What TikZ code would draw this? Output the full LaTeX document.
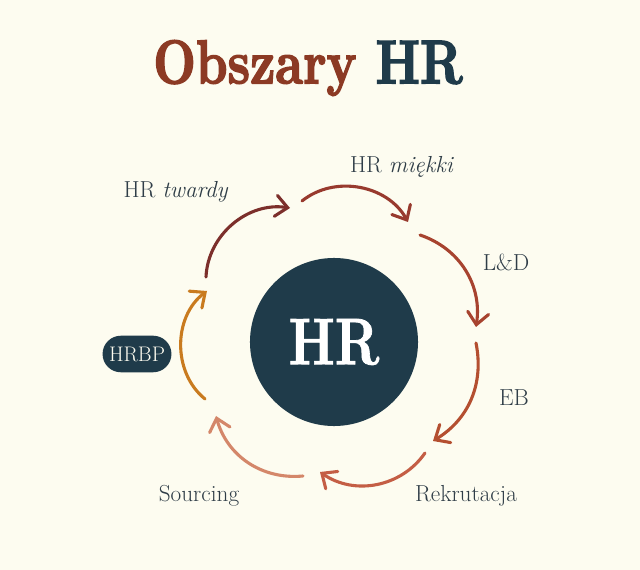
\documentclass[tikz,border=0pt]{standalone}
\usepackage{graphicx}
\usepackage{fontspec}
\newfontfamily\titlefont{lmroman10-bold.otf}[FakeBold=2.5]
\newfontfamily\hrfont{lmroman10-bold.otf}[FakeBold=1.2]
\usetikzlibrary{arrows.meta}
\definecolor{cream}{HTML}{FDFCF0}
\definecolor{navy}{HTML}{1F3B4A}
\definecolor{rust}{HTML}{8C3A24}
\definecolor{ink}{HTML}{2F3D47}
\definecolor{arcA}{HTML}{7C2F2B}
\definecolor{arcB}{HTML}{983A2E}
\definecolor{arcC}{HTML}{A7432F}
\definecolor{arcD}{HTML}{B44F30}
\definecolor{arcE}{HTML}{C45E45}
\definecolor{arcF}{HTML}{D4876A}
\definecolor{arcG}{HTML}{C97B1F}
\tikzset{
  loop arc/.style={line width=2.2pt, line cap=round,
    -{Straight Barb[length=8.5pt,width=15pt,line cap=round]}, bend left=#1},
  label/.style={text=ink, font=\fontsize{16.5}{19}\selectfont}
}
\begin{document}
\begin{tikzpicture}[x=0.025cm,y=0.025cm]
  \fill[cream] (0,0) rectangle (640,-570);
  \useasboundingbox (0,0) rectangle (640,-570);
  % title
  \node (title) at (308,-68) {\scalebox{0.8}[1]{\fontsize{44}{48}\titlefont
    \textcolor{rust}{Obszary} \textcolor{navy}{HR}}};
  % centre
  \node[circle, fill=navy, minimum size=4.2cm, inner sep=0pt] (hr) at (334,-342) {};
  \node[text=white] (hrtext) at (hr) {\scalebox{0.78}[1]{\fontsize{47}{50}\hrfont HR}};
  \node[fill=navy, text=cream, rounded corners=13pt, minimum width=49pt,
    minimum height=26pt, inner sep=2pt, font=\fontsize{15}{17}\selectfont]
    (hrbp) at (137,-354) {HRBP};
  % arc end points
  \coordinate (a1) at (206,-277); \coordinate (b1) at (290,-208);
  \coordinate (a2) at (302,-201); \coordinate (b2) at (408,-222);
  \coordinate (a3) at (420,-235); \coordinate (b3) at (476,-327);
  \coordinate (a4) at (476,-343); \coordinate (b4) at (433,-441);
  \coordinate (a5) at (425,-453); \coordinate (b5) at (320,-472);
  \coordinate (a6) at (303,-476); \coordinate (b6) at (216,-416);
  \coordinate (a7) at (205,-399); \coordinate (b7) at (207,-291);
  \draw[loop arc=48, arcA] (a1) to (b1);
  \draw[loop arc=50, arcB] (a2) to (b2);
  \draw[loop arc=40, arcC] (a3) to (b3);
  \draw[loop arc=35, arcD] (a4) to (b4);
  \draw[loop arc=45, arcE] (a5) to (b5);
  \draw[loop arc=40, arcF] (a6) to (b6);
  \draw[loop arc=52, arcG] (a7) to (b7);
  % labels
  \node[label] (twardy) at (176,-192) {HR \textit{twardy}};
  \node[label] (miekki) at (402,-167) {HR \textit{miękki}};
  \node[label] (ld) at (506,-262) {L\&D};
  \node[label] (eb) at (514,-398) {EB};
  \node[label] (rekr) at (466,-496) {Rekrutacja};
  \node[label] (sourc) at (199,-496) {Sourcing};
\end{tikzpicture}
\end{document}
